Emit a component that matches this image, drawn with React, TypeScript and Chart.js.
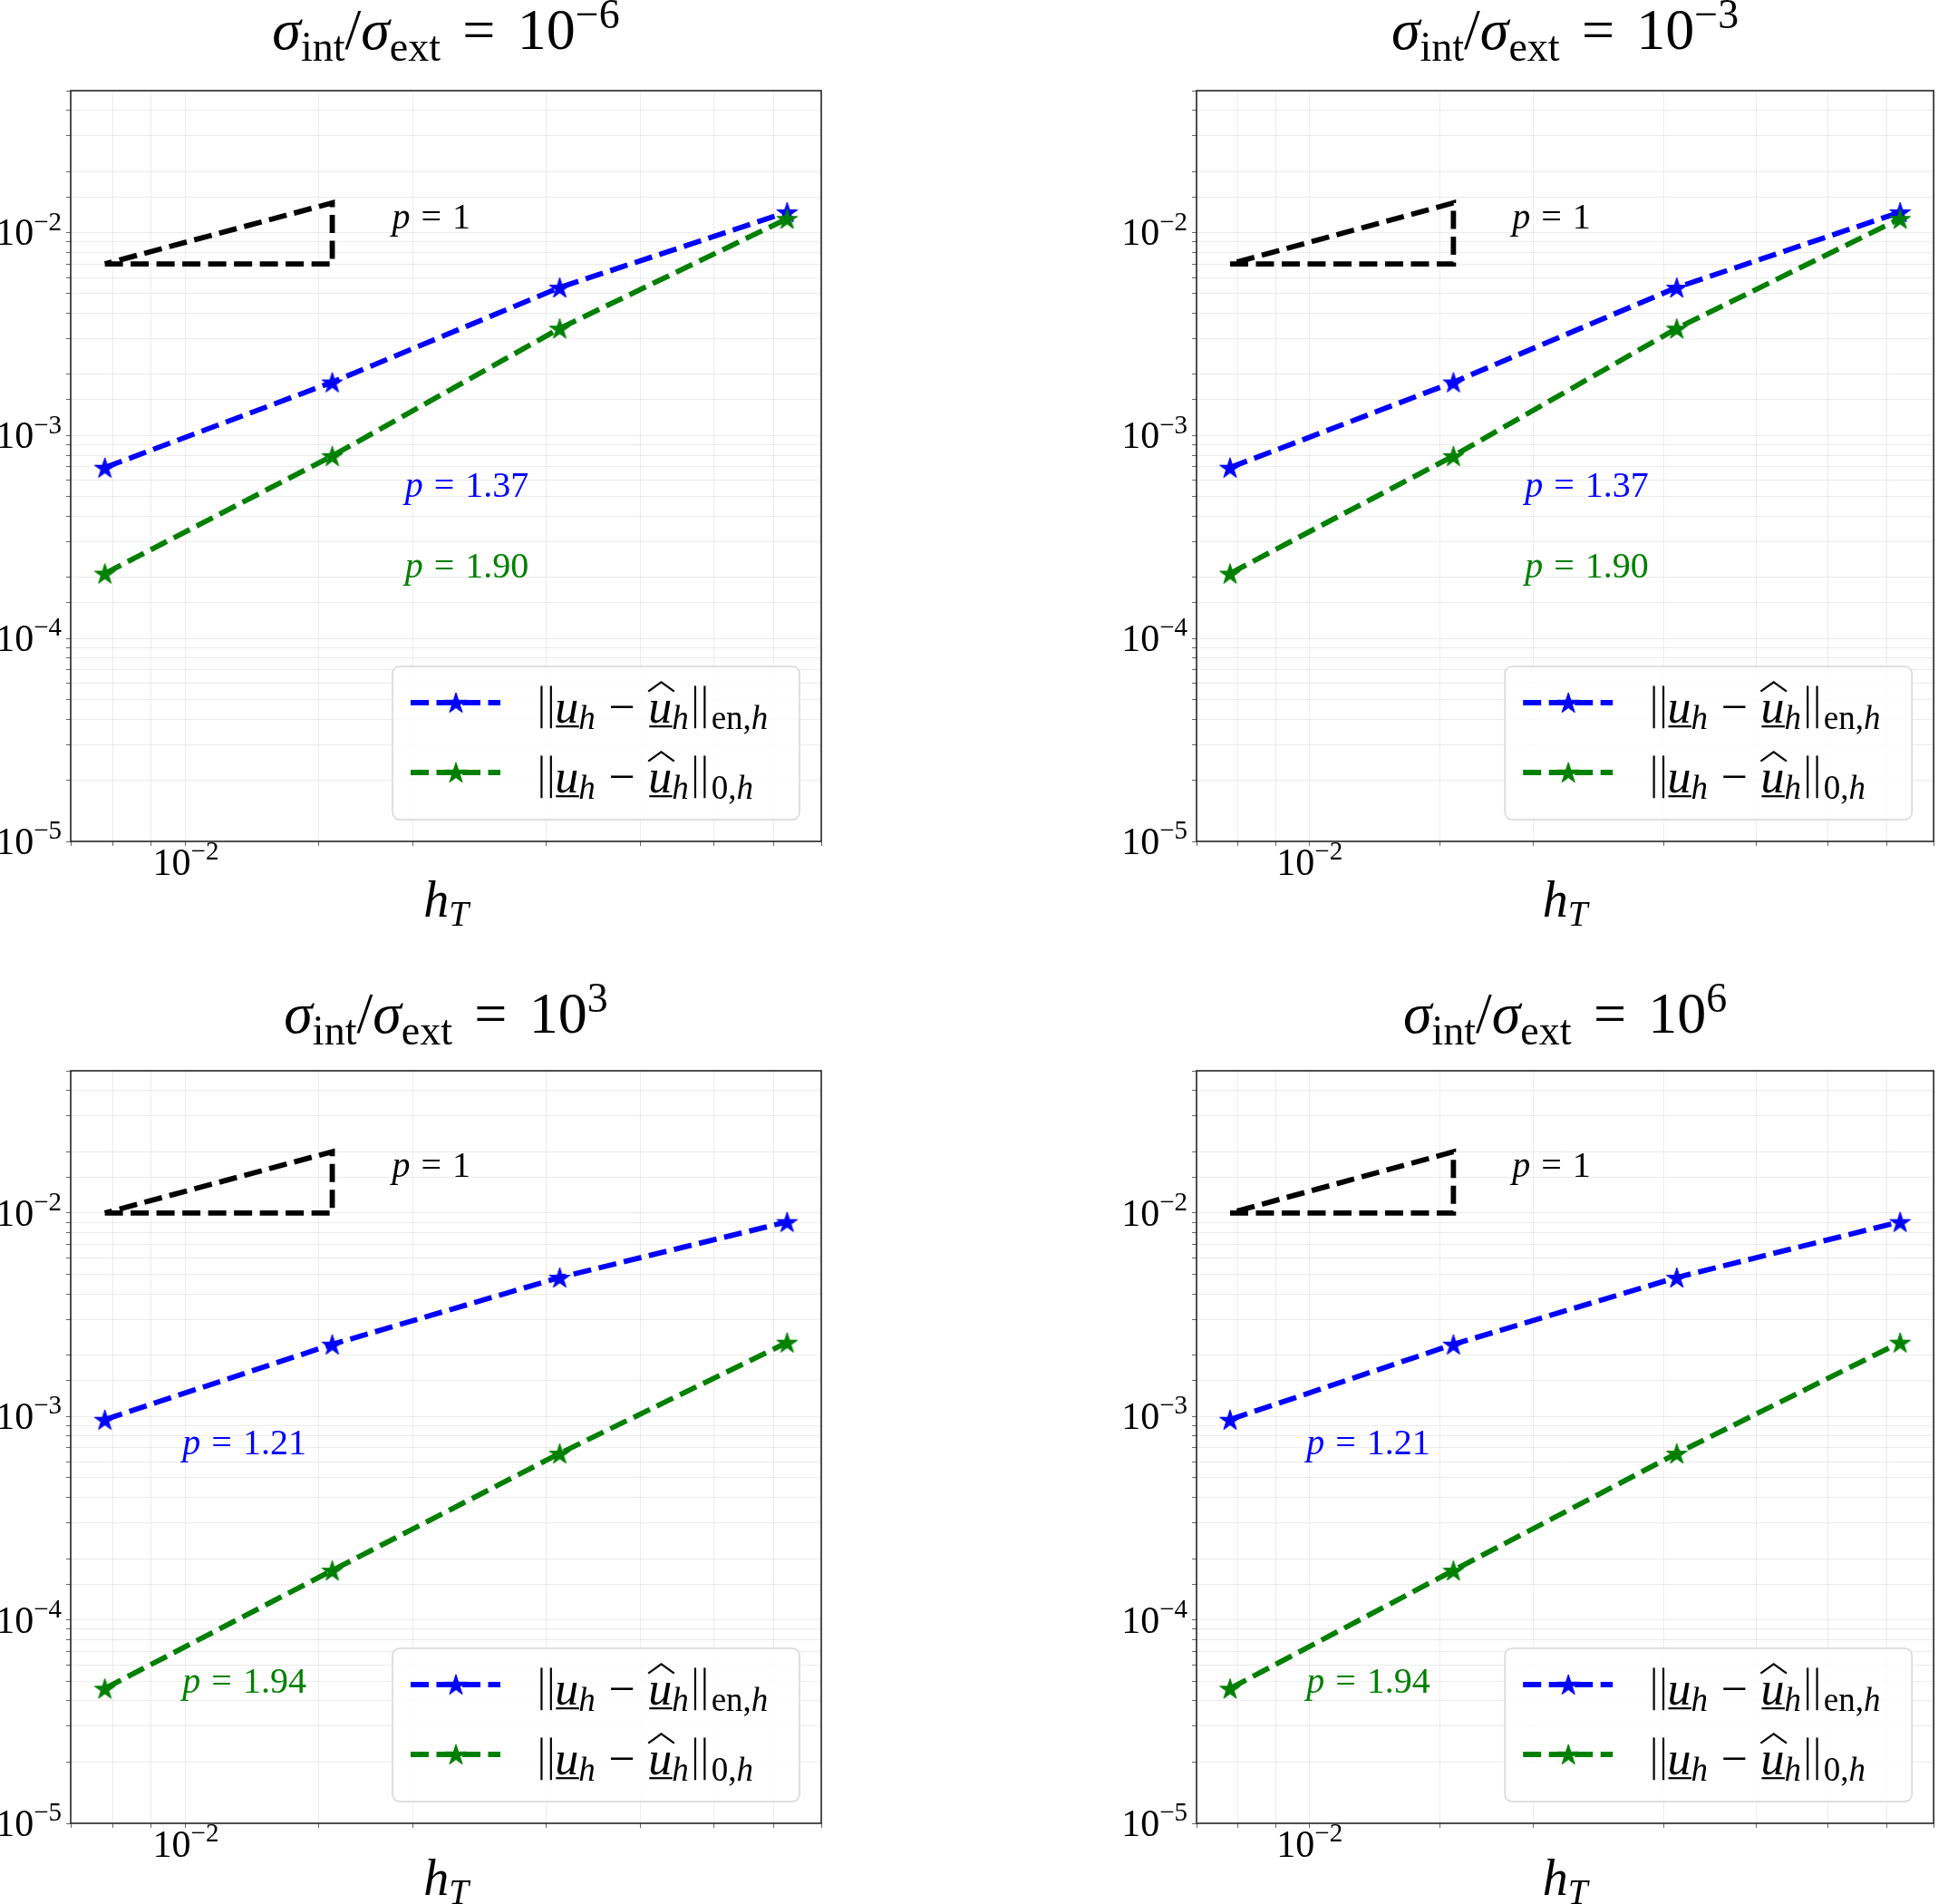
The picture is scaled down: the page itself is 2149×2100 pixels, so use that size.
import React, { useEffect, useRef } from 'react';
import { Chart, registerables } from 'chart.js';

Chart.register(...registerables);

// ---------------- data ----------------
const hT = [0.0078125, 0.015625, 0.03125, 0.0625];
// sigma_int/sigma_ext = 1e-6 and 1e-3 (identical panels)
const errEnLow = [6.95e-4, 1.83e-3, 5.36e-3, 1.26e-2];
const errL2Low = [2.09e-4, 7.93e-4, 3.37e-3, 1.17e-2];
// sigma_int/sigma_ext = 1e3 and 1e6 (identical panels)
const errEnHigh = [9.65e-4, 2.26e-3, 4.82e-3, 9.05e-3];
const errL2High = [4.6e-5, 1.75e-4, 6.58e-4, 2.31e-3];

const ratioExponents = ['−6', '−3', '3', '6'];
const ratesLow = ['1.37', '1.90'];
const ratesHigh = ['1.21', '1.94'];

const triangleX = [0.0078125, 0.015625, 0.015625, 0.0078125];
const triangleYLow = [7e-3, 7e-3, 1.4e-2, 7e-3];
const triangleYHigh = [1e-2, 1e-2, 2e-2, 1e-2];

// annotation anchors (data coordinates)
const slopeTextLow = [0.01875, 1.05e-2];
const slopeTextHigh = [0.01875, 1.5e-2];
const rateTextLow = [[0.0195, 5e-4], [0.0195, 2e-4]];
const rateTextHigh = [[0.0099, 6.5e-4], [0.0099, 4.4e-5]];

const yMin = 1e-5;
const yMax = 5e-2;
const yTickValues = [1e-5, 1e-4, 1e-3, 1e-2];
const yTickExponents = ['−5', '−4', '−3', '−2'];
const xTickValues = [1e-2];
const xTickExponents = ['−2'];

// ---------------- styling ----------------
const FAM = '"Liberation Serif", "DejaVu Serif", serif';
const BLUE = '#0000ff';
const GREEN = '#008000';
const GRID = 'rgba(0,0,0,0.075)';
const LW = 5.8;
const DASH = [20, 8.5];
const STAR_R = 12;
const TICK_FONT = 42;

type Seg = { t?: string; it?: boolean; s?: number; dy?: number; ul?: boolean; hat?: boolean; k?: number; norm?: number };

function fontOf(seg: Seg, base: number) {
  return `${seg.it ? 'italic ' : ''}${Math.round(base * (seg.s ?? 1))}px ${FAM}`;
}

function segWidth(ctx: CanvasRenderingContext2D, seg: Seg, base: number) {
  if (seg.norm) return base * seg.norm;
  ctx.font = fontOf(seg, base);
  return ctx.measureText(seg.t || '').width;
}

function drawRich(ctx: CanvasRenderingContext2D, segs: Seg[], x: number, y: number, base: number, color: string, align: 'left' | 'center' | 'right' = 'left') {
  ctx.save();
  ctx.textAlign = 'left';
  ctx.textBaseline = 'alphabetic';
  ctx.fillStyle = color;
  ctx.strokeStyle = color;
  const widths = segs.map((s) => segWidth(ctx, s, base));
  const total = widths.reduce((a, w, i) => a + w + (segs[i].k || 0) * base, 0);
  let cx = align === 'center' ? x - total / 2 : align === 'right' ? x - total : x;
  const thick = Math.max(1.6, base * 0.042);
  segs.forEach((s, i) => {
    const w = widths[i];
    if (s.norm) {
      const off = (w - base * 0.2) / 2 - thick / 2;
      ctx.fillRect(cx + off, y - base * 0.78, thick, base * 0.9);
      ctx.fillRect(cx + off + base * 0.2, y - base * 0.78, thick, base * 0.9);
    } else {
      ctx.font = fontOf(s, base);
      ctx.fillText(s.t || '', cx, y + (s.dy || 0) * base);
      if (s.ul) ctx.fillRect(cx + w * 0.04, y + base * 0.06, w * 0.98, thick);
      if (s.hat) {
        ctx.lineWidth = thick;
        ctx.lineJoin = 'miter';
        ctx.beginPath();
        ctx.moveTo(cx + w * 0.0, y - base * 0.66);
        ctx.lineTo(cx + w * 0.55, y - base * 0.86);
        ctx.lineTo(cx + w * 1.1, y - base * 0.66);
        ctx.stroke();
      }
    }
    cx += w + (s.k || 0) * base;
  });
  ctx.restore();
}

function makeStar(color: string, r: number) {
  const c = document.createElement('canvas');
  const size = Math.ceil(2 * r + 4);
  c.width = size;
  c.height = size;
  const g = c.getContext('2d')!;
  drawStar(g, size / 2, size / 2 + r * 0.1, r, color);
  return c;
}

function drawStar(g: CanvasRenderingContext2D, cx: number, cy: number, r: number, color: string) {
  const ri = r * 0.382;
  g.save();
  g.setLineDash([]);
  g.beginPath();
  for (let i = 0; i < 10; i++) {
    const rad = i % 2 === 0 ? r : ri;
    const ang = -Math.PI / 2 + (i * Math.PI) / 5;
    const px = cx + rad * Math.cos(ang);
    const py = cy + rad * Math.sin(ang);
    if (i === 0) g.moveTo(px, py);
    else g.lineTo(px, py);
  }
  g.closePath();
  g.fillStyle = color;
  g.fill();
  g.lineWidth = 1;
  g.strokeStyle = color;
  g.stroke();
  g.restore();
}

function normLabel(sub: string): Seg[] {
  return [
    { norm: 0.37 },
    { t: 'u', it: true, ul: true },
    { t: 'h', it: true, s: 0.72, dy: 0.13, k: 0.28 },
    { t: '−', k: 0.28 },
    { t: 'u', it: true, ul: true, hat: true },
    { t: 'h', it: true, s: 0.72, dy: 0.13 },
    { norm: 0.48 },
    { t: sub, s: 0.72, dy: 0.13 },
    { t: 'h', it: true, s: 0.72, dy: 0.13 },
  ];
}
const legendLabels = [normLabel('en,'), normLabel('0,')];

function pText(value: string): Seg[] {
  return [{ t: 'p', it: true, k: 0.3 }, { t: '=', k: 0.3 }, { t: value }];
}

function titleSegs(exp: string): Seg[] {
  return [
    { t: 'σ', it: true },
    { t: 'int', s: 0.72, dy: 0.2 },
    { t: '/' },
    { t: 'σ', it: true },
    { t: 'ext', s: 0.72, dy: 0.2, k: 0.38 },
    { t: '=', k: 0.38 },
    { t: '10' },
    { t: exp, s: 0.72, dy: -0.36 },
  ];
}

type Spec = {
  left: number; top: number; w: number; h: number;
  area: { l: number; t: number; r: number; b: number };
  titleY: number; xlabelY: number;
  exp: string; en: number[]; l2: number[]; triY: number[];
  slope: number[]; rates: string[]; ratePos: number[][];
};

const PANELS: Spec[] = [
  { left: 0, top: 0, w: 1074, h: 1050, area: { l: 78, t: 100, r: 906, b: 928 }, titleY: 54, xlabelY: 1011,
    exp: ratioExponents[0], en: errEnLow, l2: errL2Low, triY: triangleYLow, slope: slopeTextLow, rates: ratesLow, ratePos: rateTextLow },
  { left: 1074, top: 0, w: 1075, h: 1050, area: { l: 246, t: 100, r: 1074, b: 928 }, titleY: 54, xlabelY: 1011,
    exp: ratioExponents[1], en: errEnLow, l2: errL2Low, triY: triangleYLow, slope: slopeTextLow, rates: ratesLow, ratePos: rateTextLow },
  { left: 0, top: 1050, w: 1074, h: 1050, area: { l: 78, t: 131, r: 906, b: 961 }, titleY: 89, xlabelY: 1040,
    exp: ratioExponents[2], en: errEnHigh, l2: errL2High, triY: triangleYHigh, slope: slopeTextHigh, rates: ratesHigh, ratePos: rateTextHigh },
  { left: 1074, top: 1050, w: 1075, h: 1050, area: { l: 246, t: 131, r: 1074, b: 961 }, titleY: 89, xlabelY: 1040,
    exp: ratioExponents[3], en: errEnHigh, l2: errL2High, triY: triangleYHigh, slope: slopeTextHigh, rates: ratesHigh, ratePos: rateTextHigh },
];

function isLabelled(v: number, vals: number[]) {
  return vals.some((t) => Math.abs(v - t) / t < 1e-6);
}

function buildConfig(spec: Spec): any {
  const lo = Math.log10(Math.min(...hT));
  const hi = Math.log10(Math.max(...hT));
  const m = (hi - lo) * 0.05;
  const xMin = Math.pow(10, lo - m);
  const xMax = Math.pow(10, hi + m);
  const starBlue = makeStar(BLUE, STAR_R);
  const starGreen = makeStar(GREEN, STAR_R);

  const overlay = {
    id: 'overlay',
    afterDraw(chart: any) {
      const ctx: CanvasRenderingContext2D = chart.ctx;
      const a = chart.chartArea;
      const xs = chart.scales.x;
      const ys = chart.scales.y;
      // spines
      ctx.save();
      ctx.strokeStyle = '#262626';
      ctx.lineWidth = 1.6;
      ctx.strokeRect(a.left, a.top, a.right - a.left, a.bottom - a.top);
      ctx.restore();
      // tick labels (positions from the library's scales)
      yTickValues.forEach((v, i) => {
        const py = ys.getPixelForValue(v);
        drawRich(ctx, [{ t: '10' }, { t: yTickExponents[i], s: 0.7, dy: -0.4 }], a.left - 10, py + 14, TICK_FONT, '#000', 'right');
      });
      xTickValues.forEach((v, i) => {
        const px = xs.getPixelForValue(v);
        drawRich(ctx, [{ t: '10' }, { t: xTickExponents[i], s: 0.7, dy: -0.4 }], px, a.bottom + 37, TICK_FONT, '#000', 'center');
      });
      // title
      const cxp = (a.left + a.right) / 2;
      drawRich(ctx, titleSegs(spec.exp), cxp, spec.titleY, 64, '#000', 'center');
      // x label
      drawRich(ctx, [{ t: 'h', it: true }, { t: 'T', it: true, s: 0.7, dy: 0.18 }], cxp, spec.xlabelY, 56, '#000', 'center');
      // slope annotations
      drawRich(ctx, pText('1'), xs.getPixelForValue(spec.slope[0]), ys.getPixelForValue(spec.slope[1]), 40, '#000');
      drawRich(ctx, pText(spec.rates[0]), xs.getPixelForValue(spec.ratePos[0][0]), ys.getPixelForValue(spec.ratePos[0][1]), 40, BLUE);
      drawRich(ctx, pText(spec.rates[1]), xs.getPixelForValue(spec.ratePos[1][0]), ys.getPixelForValue(spec.ratePos[1][1]), 40, GREEN);
      // legend
      const bw = 449, bh = 169;
      const bx = a.right - 24 - bw;
      const by = a.bottom - 24 - bh;
      ctx.save();
      ctx.beginPath();
      (ctx as any).roundRect(bx, by, bw, bh, 8);
      ctx.fillStyle = 'rgba(255,255,255,0.8)';
      ctx.fill();
      ctx.strokeStyle = '#d6d6d6';
      ctx.lineWidth = 1.5;
      ctx.stroke();
      ctx.restore();
      const rows = [
        { color: BLUE, segs: legendLabels[0], y: by + 40 },
        { color: GREEN, segs: legendLabels[1], y: by + 117 },
      ];
      rows.forEach((r) => {
        ctx.save();
        ctx.strokeStyle = r.color;
        ctx.lineWidth = LW;
        ctx.setLineDash(DASH);
        ctx.beginPath();
        ctx.moveTo(bx + 20, r.y);
        ctx.lineTo(bx + 119, r.y);
        ctx.stroke();
        ctx.restore();
        drawStar(ctx, bx + 70, r.y + 1, STAR_R, r.color);
        drawRich(ctx, r.segs, bx + 160, r.y + 22, 52, '#000');
      });
    },
  };

  const gridCfg = {
    color: GRID,
    lineWidth: 1,
    drawTicks: true,
    tickLength: 5,
    tickColor: '#666',
  };

  return {
    type: 'line',
    data: {
      datasets: [
        {
          label: 'slope',
          data: triangleX.map((x, i) => ({ x, y: spec.triY[i] })),
          borderColor: '#000',
          borderWidth: LW,
          borderDash: DASH,
          borderJoinStyle: 'miter',
          pointRadius: 0,
          fill: false,
          tension: 0,
          order: 3,
        },
        {
          label: 'en',
          data: hT.map((x, i) => ({ x, y: spec.en[i] })),
          borderColor: BLUE,
          backgroundColor: BLUE,
          borderWidth: LW,
          borderDash: DASH,
          pointStyle: starBlue,
          pointRadius: 10,
          fill: false,
          tension: 0,
          order: 2,
        },
        {
          label: 'l2',
          data: hT.map((x, i) => ({ x, y: spec.l2[i] })),
          borderColor: GREEN,
          backgroundColor: GREEN,
          borderWidth: LW,
          borderDash: DASH,
          pointStyle: starGreen,
          pointRadius: 10,
          fill: false,
          tension: 0,
          order: 1,
        },
      ],
    },
    options: {
      animation: false,
      responsive: false,
      maintainAspectRatio: false,
      devicePixelRatio: 1,
      events: [],
      layout: { padding: { top: spec.area.t, left: 0, right: spec.w - spec.area.r, bottom: 0 } },
      plugins: { legend: { display: false }, tooltip: { enabled: false }, title: { display: false } },
      scales: {
        x: {
          type: 'logarithmic',
          position: 'bottom',
          min: xMin,
          max: xMax,
          afterFit: (s: any) => { s.height = spec.h - spec.area.b; },
          grid: gridCfg,
          border: { display: false },
          ticks: {
            display: false, autoSkip: false, maxRotation: 0, minRotation: 0,
            callback: (v: number) => (isLabelled(v, xTickValues) ? String(v) : ''),
          },
        },
        y: {
          type: 'logarithmic',
          position: 'left',
          min: yMin,
          max: yMax,
          afterFit: (s: any) => { s.width = spec.area.l; },
          grid: gridCfg,
          border: { display: false },
          ticks: {
            display: false, autoSkip: false,
            callback: (v: number) => (isLabelled(v, yTickValues) ? String(v) : ''),
          },
        },
      },
    },
    plugins: [overlay],
  };
}

function Panel({ spec }: { spec: Spec }) {
  const ref = useRef<HTMLCanvasElement>(null);
  useEffect(() => {
    if (!ref.current) return;
    const chart = new Chart(ref.current, buildConfig(spec));
    return () => chart.destroy();
  }, [spec]);
  return (
    <canvas
      ref={ref}
      width={spec.w}
      height={spec.h}
      style={{ position: 'absolute', left: spec.left, top: spec.top, width: spec.w, height: spec.h }}
    />
  );
}

export default function App() {
  return (
    <div style={{ position: 'absolute', left: 0, top: 0, width: 2149, height: 2100, background: '#ffffff', overflow: 'hidden' }}>
      {PANELS.map((p, i) => (
        <Panel key={i} spec={p} />
      ))}
    </div>
  );
}
